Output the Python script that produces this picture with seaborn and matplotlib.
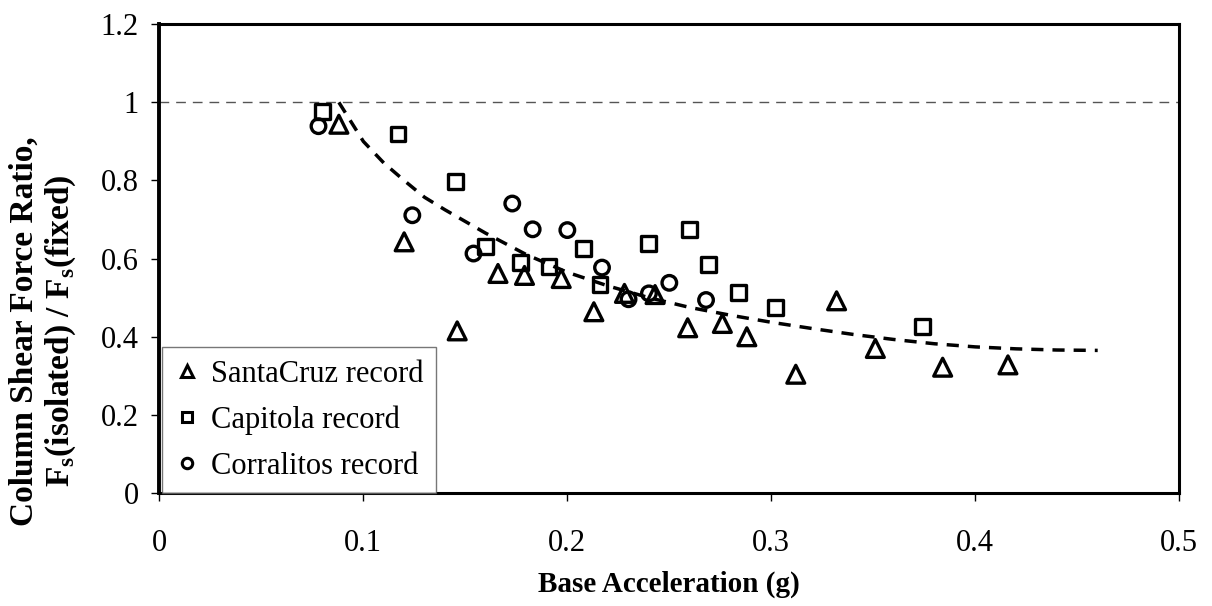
import matplotlib
matplotlib.use("Agg")
import matplotlib.pyplot as plt
import seaborn as sns
import pandas as pd
from matplotlib.lines import Line2D

# ---- data ----
santacruz_x = [0.088, 0.120, 0.146, 0.166, 0.179, 0.197, 0.213, 0.228, 0.243, 0.259,
               0.276, 0.288, 0.312, 0.332, 0.351, 0.384, 0.416]
santacruz_y = [0.944, 0.643, 0.415, 0.562, 0.557, 0.549, 0.464, 0.511, 0.508, 0.423,
               0.434, 0.400, 0.304, 0.492, 0.370, 0.322, 0.328]

capitola_x = [0.080, 0.117, 0.145, 0.160, 0.177, 0.191, 0.208, 0.216, 0.240, 0.260,
              0.269, 0.284, 0.302, 0.374]
capitola_y = [0.976, 0.919, 0.798, 0.632, 0.589, 0.579, 0.626, 0.534, 0.639, 0.675,
              0.585, 0.513, 0.475, 0.427]

corralitos_x = [0.078, 0.124, 0.154, 0.173, 0.183, 0.200, 0.217, 0.230, 0.240, 0.250, 0.268]
corralitos_y = [0.939, 0.711, 0.613, 0.741, 0.675, 0.673, 0.577, 0.496, 0.511, 0.538, 0.494]

trend_x = [0.088, 0.10, 0.11, 0.12, 0.13, 0.14, 0.16, 0.18, 0.20, 0.22, 0.24, 0.26, 0.28,
           0.30, 0.32, 0.34, 0.36, 0.38, 0.40, 0.42, 0.44, 0.46]
trend_y = [1.00, 0.90, 0.845, 0.80, 0.757, 0.725, 0.665, 0.61, 0.565, 0.53, 0.50, 0.475,
           0.455, 0.437, 0.421, 0.406, 0.393, 0.382, 0.374, 0.369, 0.366, 0.365]

ref_x = [0.0, 0.5]
ref_y = [1.0, 1.0]

x_ticks = [0, 0.1, 0.2, 0.3, 0.4, 0.5]
x_ticklabels = ["0", "0.1", "0.2", "0.3", "0.4", "0.5"]
y_ticks = [0, 0.2, 0.4, 0.6, 0.8, 1.0, 1.2]
y_ticklabels = ["0", "0.2", "0.4", "0.6", "0.8", "1", "1.2"]

labels = ["SantaCruz record", "Capitola record", "Corralitos record"]

# ---- style ----
sns.set_theme(style="white")
plt.rcParams["font.family"] = ["Liberation Serif", "DejaVu Serif"]
plt.rcParams["mathtext.fontset"] = "custom"
plt.rcParams["mathtext.rm"] = "Liberation Serif"
plt.rcParams["mathtext.bf"] = "Liberation Serif:bold"
plt.rcParams["text.color"] = "black"
plt.rcParams["axes.labelcolor"] = "black"
plt.rcParams["xtick.color"] = "black"
plt.rcParams["ytick.color"] = "black"

fig = plt.figure(figsize=(12.12, 6.06), dpi=100)
ax = fig.add_axes([0.1315, 0.1865, 0.8415, 0.7735])

# reference line at 1
sns.lineplot(x=ref_x, y=ref_y, ax=ax, color="#555555", linewidth=1.0,
             linestyle=(0, (7, 5)), zorder=1)
# trend line
sns.lineplot(x=trend_x, y=trend_y, ax=ax, color="black", linewidth=2.5,
             linestyle=(0, (3.5, 2.6)), sort=False, zorder=2)

series = [
    (santacruz_x, santacruz_y, "^", 165),
    (capitola_x, capitola_y, "s", 115),
    (corralitos_x, corralitos_y, "o", 110),
]
for (xs, ys, mk, s), lab in zip(series, labels):
    df = pd.DataFrame({"x": xs, "y": ys})
    sns.scatterplot(data=df, x="x", y="y", ax=ax, marker=mk, s=s,
                    facecolors="none", edgecolor="black", linewidth=2.4, zorder=3)

ax.set_xlim(0, 0.5)
ax.set_ylim(0, 1.2)
ax.set_xticks(x_ticks)
ax.set_xticklabels(x_ticklabels)
ax.set_yticks(y_ticks)
ax.set_yticklabels(y_ticklabels)
ax.tick_params(axis="both", direction="out", length=6, width=1, colors="black",
               labelsize=22, left=True, bottom=True)
ax.tick_params(axis="x", pad=20)
ax.tick_params(axis="y", pad=9)

for side in ["left", "bottom", "top", "right"]:
    ax.spines[side].set_visible(True)
    ax.spines[side].set_color("black")
    ax.spines[side].set_linewidth(2.2)
ax.spines["left"].set_linewidth(2.8)

ax.set_xlabel("Base Acceleration (g)", fontsize=21, fontweight="bold", labelpad=9)
ax.set_ylabel("Column Shear Force Ratio,\nF$_\\mathbf{s}$(isolated) / F$_\\mathbf{s}$(fixed)",
              fontsize=24, fontweight="bold", linespacing=1.15)
ax.yaxis.set_label_coords(-0.080, 0.345)

handles = [Line2D([], [], linestyle="none", marker=m, markersize=sz,
                  markerfacecolor="none", markeredgecolor="black", markeredgewidth=2.2)
           for m, sz in [("^", 8.5), ("s", 7.5), ("o", 7.5)]]
leg = ax.legend(handles, labels, loc="lower left", bbox_to_anchor=(0.003, 0.0),
                borderaxespad=0, frameon=True, fancybox=False, fontsize=22,
                handlelength=0.8, handletextpad=0.4, labelspacing=0.55,
                borderpad=0.4)
leg.get_frame().set_edgecolor("#555555")
leg.get_frame().set_linewidth(1.0)

fig.savefig("out.png", dpi=100, facecolor="white")
